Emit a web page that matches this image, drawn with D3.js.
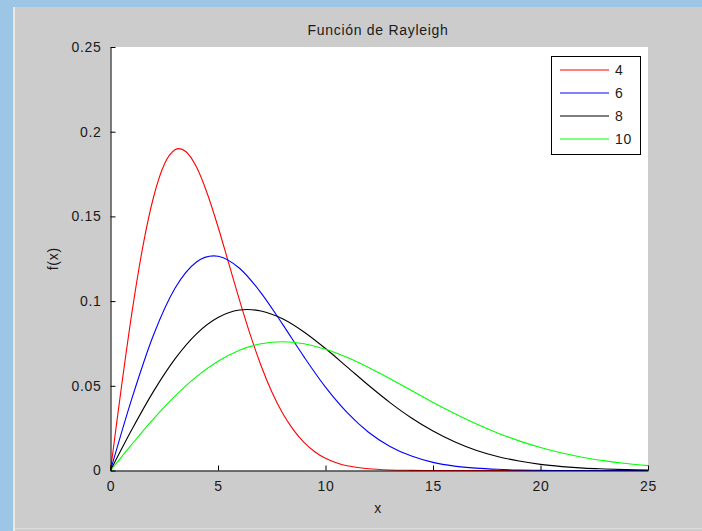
<!DOCTYPE html>
<html>
<head>
<meta charset="utf-8">
<script src="https://cdn.jsdelivr.net/npm/d3@7"></script>
<style>
body { margin: 0; background: #9cc5e6; }
svg text { font-family: "Liberation Sans", Arial, sans-serif; font-size: 14px; fill: #1a1a1a; letter-spacing: 0.7px; }
</style>
</head>
<body>
<div id="chart"></div>
<script>
// x samples and f(x)
var xs = [0, 1, 2, 3, 4, 5, 6, 7, 8, 9, 10, 11, 12, 13, 14, 15, 16, 17, 18, 19, 20, 21, 22, 23, 24, 25];
// the red curve is steep, so it is read at half steps up to x = 11
var xsRed = [0, 0.5, 1, 1.5, 2, 2.5, 3, 3.5, 4, 4.5, 5, 5.5, 6, 6.5, 7, 7.5, 8, 8.5, 9, 9.5, 10, 10.5, 11, 12, 13, 14, 15, 16, 17, 18, 19, 20, 21, 22, 23, 24, 25];
var red4 = [0, 0.0485, 0.0935, 0.1319, 0.1613, 0.1806, 0.1893, 0.1883, 0.1791, 0.1635, 0.1439, 0.1223, 0.1006, 0.0802, 0.0620, 0.0465, 0.0339, 0.0241, 0.0166, 0.0111, 0.0072, 0.0046, 0.0028, 0.0010, 0.0003, 0.0001, 0, 0, 0, 0, 0, 0, 0, 0, 0, 0, 0];
var blue6 = [0, 0.0427, 0.0800, 0.1076, 0.1231, 0.1265, 0.1194, 0.1049, 0.0864, 0.0671, 0.0492, 0.0343, 0.0226, 0.0142, 0.0085, 0.0048, 0.0026, 0.0014, 0.0007, 0.0003, 0.0001, 0, 0, 0, 0, 0];
var black8 = [0, 0.0243, 0.0467, 0.0659, 0.0807, 0.0903, 0.0947, 0.0942, 0.0896, 0.0818, 0.0720, 0.0612, 0.0503, 0.0401, 0.0310, 0.0233, 0.0170, 0.0120, 0.0083, 0.0056, 0.0036, 0.0023, 0.0014, 0.0009, 0.0005, 0.0003];
var green10 = [0, 0.0156, 0.0305, 0.0439, 0.0554, 0.0645, 0.0710, 0.0748, 0.0760, 0.0748, 0.0716, 0.0668, 0.0608, 0.0542, 0.0472, 0.0402, 0.0337, 0.0276, 0.0222, 0.0175, 0.0136, 0.0103, 0.0077, 0.0057, 0.0041, 0.0029];

var legendLabels = ["4", "6", "8", "10"];
var colors = ["#ff0000", "#0000ff", "#000000", "#00ff00"];
var xTicks = [0, 5, 10, 15, 20, 25];
var yTicks = [0, 0.05, 0.1, 0.15, 0.2, 0.25];
var yTickLabels = ["0", "0.05", "0.1", "0.15", "0.2", "0.25"];

var series = [d3.zip(xsRed, red4), d3.zip(xs, blue6), d3.zip(xs, black8), d3.zip(xs, green10)];

var w = 702, h = 531;
var pLeft = 110.5, pRight = 648, pTop = 47, pBottom = 470.5;

var svg = d3.select("#chart")
  .append("svg")
  .attr("width", w)
  .attr("height", h);

// window frame
svg.append("rect").attr("x", 0).attr("y", 0).attr("width", w).attr("height", h).style("fill", "#9cc5e6");
svg.append("rect").attr("x", 13).attr("y", 7).attr("width", w - 13).attr("height", h - 7).style("fill", "#cccccc");
svg.append("rect").attr("x", 13).attr("y", 7).attr("width", 2).attr("height", h - 7).style("fill", "#ebe8dc");
svg.append("rect").attr("x", 15).attr("y", 528).attr("width", w - 15).attr("height", 1).style("fill", "#dcdcdc");

// axes area
svg.append("rect")
  .attr("x", pLeft).attr("y", pTop)
  .attr("width", pRight - pLeft).attr("height", pBottom - pTop)
  .style("fill", "#ffffff");

var x = d3.scaleLinear().domain([0, 25]).range([pLeft, pRight]);
var y = d3.scaleLinear().domain([0, 0.25]).range([pBottom, pTop]);

var xAxis = d3.axisBottom(x).tickValues(xTicks).tickSizeInner(-5).tickSizeOuter(0).tickPadding(11);
var yAxis = d3.axisLeft(y).tickValues(yTicks).tickSizeInner(-5).tickSizeOuter(0).tickPadding(13)
  .tickFormat(function(d, i){ return yTickLabels[i]; });

var line = d3.line()
  .x(function(d){ return x(d[0]); })
  .y(function(d){ return y(d[1]); })
  .curve(d3.curveCardinal.tension(0));

svg.selectAll("path.curve")
  .data(series)
  .enter()
  .append("path")
  .attr("class", "curve")
  .attr("d", line)
  .style("fill", "none")
  .style("stroke", function(d, i){ return colors[i]; })
  .style("stroke-width", 1.1);

var gx = svg.append("g").attr("transform", "translate(0," + pBottom + ")").call(xAxis);
var gy = svg.append("g").attr("transform", "translate(" + pLeft + ",0)").call(yAxis);
[gx, gy].forEach(function(g){
  g.attr("font-family", null).attr("font-size", null);
  g.select(".domain").style("stroke", "#000").style("stroke-width", 1);
  g.selectAll(".tick line").style("stroke", "#000");
  g.selectAll(".tick text").style("fill", "#1a1a1a");
});
gy.selectAll(".tick text").attr("dx", "4");

// title and labels
svg.append("text").attr("x", 378).attr("y", 35).attr("text-anchor", "middle").text("Función de Rayleigh");
svg.append("text").attr("x", 378).attr("y", 513).attr("text-anchor", "middle").text("x");
svg.append("text")
  .attr("transform", "translate(58," + (pTop + pBottom) / 2 + ") rotate(-90)")
  .attr("text-anchor", "middle")
  .text("f(x)");

// legend
var lg = svg.append("g");
lg.append("rect")
  .attr("x", 551.5).attr("y", 56.5).attr("width", 89).attr("height", 98)
  .style("fill", "#ffffff").style("stroke", "#000").style("stroke-width", 1);
var ly = d3.scalePoint().domain(legendLabels).range([70, 139]);
var items = lg.selectAll("g.item")
  .data(legendLabels)
  .enter()
  .append("g")
  .attr("class", "item")
  .attr("transform", function(d){ return "translate(0," + ly(d) + ")"; });
items.append("line")
  .attr("x1", 560).attr("x2", 609).attr("y1", 0).attr("y2", 0)
  .style("stroke-width", 1.2)
  .style("stroke", function(d){ return colors[legendLabels.indexOf(d)]; });
items.append("text")
  .attr("x", 615).attr("y", 5)
  .text(function(d){ return d; });
</script>
</body>
</html>
